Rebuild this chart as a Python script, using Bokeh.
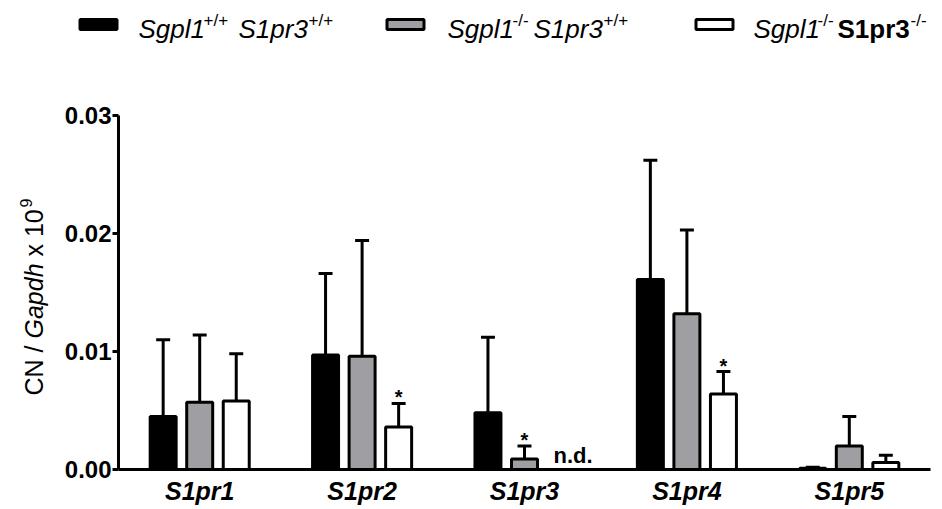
import numpy as np
from bokeh.plotting import figure
from bokeh.models import ColumnDataSource, FactorRange, Range1d, FixedTicker, NumeralTickFormatter
from bokeh.transform import dodge
from bokeh.layouts import column, row
from bokeh.core.properties import value
from bokeh.embed import file_html
from bokeh.resources import INLINE

# ---------------- data ----------------
genes = ["S1pr1", "S1pr2", "S1pr3", "S1pr4", "S1pr5"]
wt_mean = [0.0045, 0.0097, 0.0048, 0.0161, 0.0001]
wt_sd = [0.0065, 0.0069, 0.0064, 0.0101, 0.0001]
ko_mean = [0.0057, 0.0096, 0.0009, 0.0132, 0.0020]
ko_sd = [0.0057, 0.0098, 0.0011, 0.0071, 0.0025]
dko_mean = [0.0058, 0.0036, float("nan"), 0.0064, 0.0006]
dko_sd = [0.0040, 0.0020, float("nan"), 0.0019, 0.0006]
wt_sig = ["", "", "", "", ""]
ko_sig = ["", "", "*", "", ""]
dko_sig = ["", "*", "", "*", ""]
dko_note = ["", "", "n.d.", "", ""]
y_ticks = [0.0, 0.01, 0.02, 0.03]
series_colors = ["black", "#9f9fa3", "white"]

# legend labels as (text, style) segments; "sup" = superscript
legend_labels = [
    [("Sgpl1", "italic"), ("+/+", "sup"), ("S1pr3", "italic"), ("+/+", "sup")],
    [("Sgpl1", "italic"), ("-/-", "sup"), ("S1pr3", "italic"), ("+/+", "sup")],
    [("Sgpl1", "italic"), ("-/-", "sup"), ("S1pr3", "bold"), ("-/-", "sup")],
]
ylabel_parts = [("CN /", "normal"), ("Gapdh", "italic"), ("x 10", "normal"), ("9", "sup")]

FONT = value("Liberation Sans")

# ---------------- main plot ----------------
p = figure(x_range=FactorRange(*genes), y_range=Range1d(0, 0.03),
           width=889, height=449, output_backend="svg", toolbar_location=None,
           min_border_left=65, min_border_right=12, min_border_top=55, min_border_bottom=40)
p.outline_line_color = None
p.xgrid.grid_line_color = None
p.ygrid.grid_line_color = None
p.background_fill_color = "white"

offsets = [-0.225, 0.0, 0.225]
bar_w = 0.16
cap_half = 0.043
series = [(wt_mean, wt_sd, wt_sig), (ko_mean, ko_sd, ko_sig), (dko_mean, dko_sd, dko_sig)]

for (m, s, sig), col, off in zip(series, series_colors, offsets):
    m = np.array(m, dtype=float)
    s = np.array(s, dtype=float)
    src = ColumnDataSource(dict(gene=genes, mean=m, top=m + s))
    p.segment(x0=dodge("gene", off, range=p.x_range), y0="mean",
              x1=dodge("gene", off, range=p.x_range), y1="top",
              source=src, line_color="black", line_width=3, line_cap="butt")
    p.segment(x0=dodge("gene", off - cap_half, range=p.x_range), y0="top",
              x1=dodge("gene", off + cap_half, range=p.x_range), y1="top",
              source=src, line_color="black", line_width=3, line_cap="butt")
    p.vbar(x=dodge("gene", off, range=p.x_range), top="mean", bottom=0, width=bar_w,
           source=src, fill_color=col, line_color="black", line_width=3)
    idx = [i for i, t in enumerate(sig) if t]
    if idx:
        star_src = ColumnDataSource(dict(gene=[genes[i] for i in idx],
                                         top=[m[i] + s[i] for i in idx],
                                         sig=[sig[i] for i in idx]))
        p.text(x=dodge("gene", off, range=p.x_range), y="top", text="sig", source=star_src,
               text_font=FONT, text_font_style="bold", text_font_size="20px",
               text_align="center", text_baseline="middle", y_offset=-6, text_color="black")

nidx = [i for i, t in enumerate(dko_note) if t]
note_src = ColumnDataSource(dict(gene=[genes[i] for i in nidx], y=[0.0] * len(nidx),
                                 note=[dko_note[i] for i in nidx]))
p.text(x=dodge("gene", offsets[2], range=p.x_range), y="y", text="note", source=note_src,
       text_font=FONT, text_font_style="bold", text_font_size="22px",
       text_align="center", text_baseline="middle", x_offset=12, y_offset=-14,
       text_color="black")

p.yaxis.ticker = FixedTicker(ticks=y_ticks)
p.yaxis.formatter = NumeralTickFormatter(format="0.00")
p.yaxis.minor_tick_line_color = None
p.yaxis.axis_line_width = 3
p.yaxis.major_tick_line_width = 3
p.yaxis.major_tick_out = 6
p.yaxis.major_tick_in = 0
p.yaxis.major_label_standoff = 1
p.yaxis.major_label_text_font = "Liberation Sans"
p.yaxis.major_label_text_font_style = "bold"
p.yaxis.major_label_text_font_size = "24px"
p.yaxis.major_label_text_color = "black"
p.yaxis.axis_line_color = "black"
p.yaxis.major_tick_line_color = "black"

p.xaxis.axis_line_width = 3
p.xaxis.axis_line_color = "black"
p.xaxis.major_tick_line_color = None
p.xaxis.major_tick_out = 0
p.xaxis.major_tick_in = 0
p.xaxis.minor_tick_line_color = None
p.xaxis.major_label_standoff = 7
p.xaxis.major_label_text_font = "Liberation Sans"
p.xaxis.major_label_text_font_style = "bold italic"
p.xaxis.major_label_text_font_size = "25px"
p.xaxis.major_label_text_color = "black"

# ---------------- legend strip (page-pixel coordinates) ----------------
leg = figure(width=942, height=60, x_range=Range1d(0, 942), y_range=Range1d(60, 0),
             output_backend="svg", toolbar_location=None, min_border=0,
             x_axis_location=None, y_axis_location=None)
leg.outline_line_color = None
leg.xgrid.grid_line_color = None
leg.ygrid.grid_line_color = None

leg_rect_x = [98, 405, 714]
leg.rect(x=leg_rect_x, y=[24, 24, 24], width=[37, 37, 37], height=[10, 10, 10],
         fill_color=series_colors, line_color="black", line_width=3)

leg_text_x = [[138, 203, 238, 308], [447, 512, 533, 603], [753, 817, 837, 910]]
for segs, xpos in zip(legend_labels, leg_text_x):
    for (txt, style), x in zip(segs, xpos):
        if style == "sup":
            leg.text(x=[x], y=[20], text=[txt], text_font=FONT, text_font_style="normal",
                     text_font_size="17px", text_baseline="middle", text_align="left",
                     text_color="black")
        else:
            leg.text(x=[x], y=[28.6], text=[txt], text_font=FONT, text_font_style=style,
                     text_font_size="26px", text_baseline="middle", text_align="left",
                     text_color="black")

# ---------------- y-axis title strip (same top/bottom borders as the main plot) ----------------
yl = figure(width=53, height=449, x_range=Range1d(0, 53), y_range=Range1d(469, 115),
            output_backend="svg", toolbar_location=None,
            min_border_left=0, min_border_right=0, min_border_top=55, min_border_bottom=40,
            x_axis_location=None, y_axis_location=None)
yl.outline_line_color = None
yl.xgrid.grid_line_color = None
yl.ygrid.grid_line_color = None
yl_pos = [395, 338, 256, 207]
for (txt, style), ypos in zip(ylabel_parts, yl_pos):
    if style == "sup":
        yl.text(x=[25], y=[ypos], text=[txt], text_font=FONT, text_font_size="16px",
                angle=np.pi / 2, text_align="left", text_baseline="middle",
                text_color="black")
    else:
        yl.text(x=[33], y=[ypos], text=[txt], text_font=FONT, text_font_style=style,
                text_font_size="25px", angle=np.pi / 2, text_align="left",
                text_baseline="middle", text_color="black")

layout = column(leg, row(yl, column(p, spacing=0), spacing=0), spacing=0)
open("out.html", "w").write(file_html(layout, INLINE))
